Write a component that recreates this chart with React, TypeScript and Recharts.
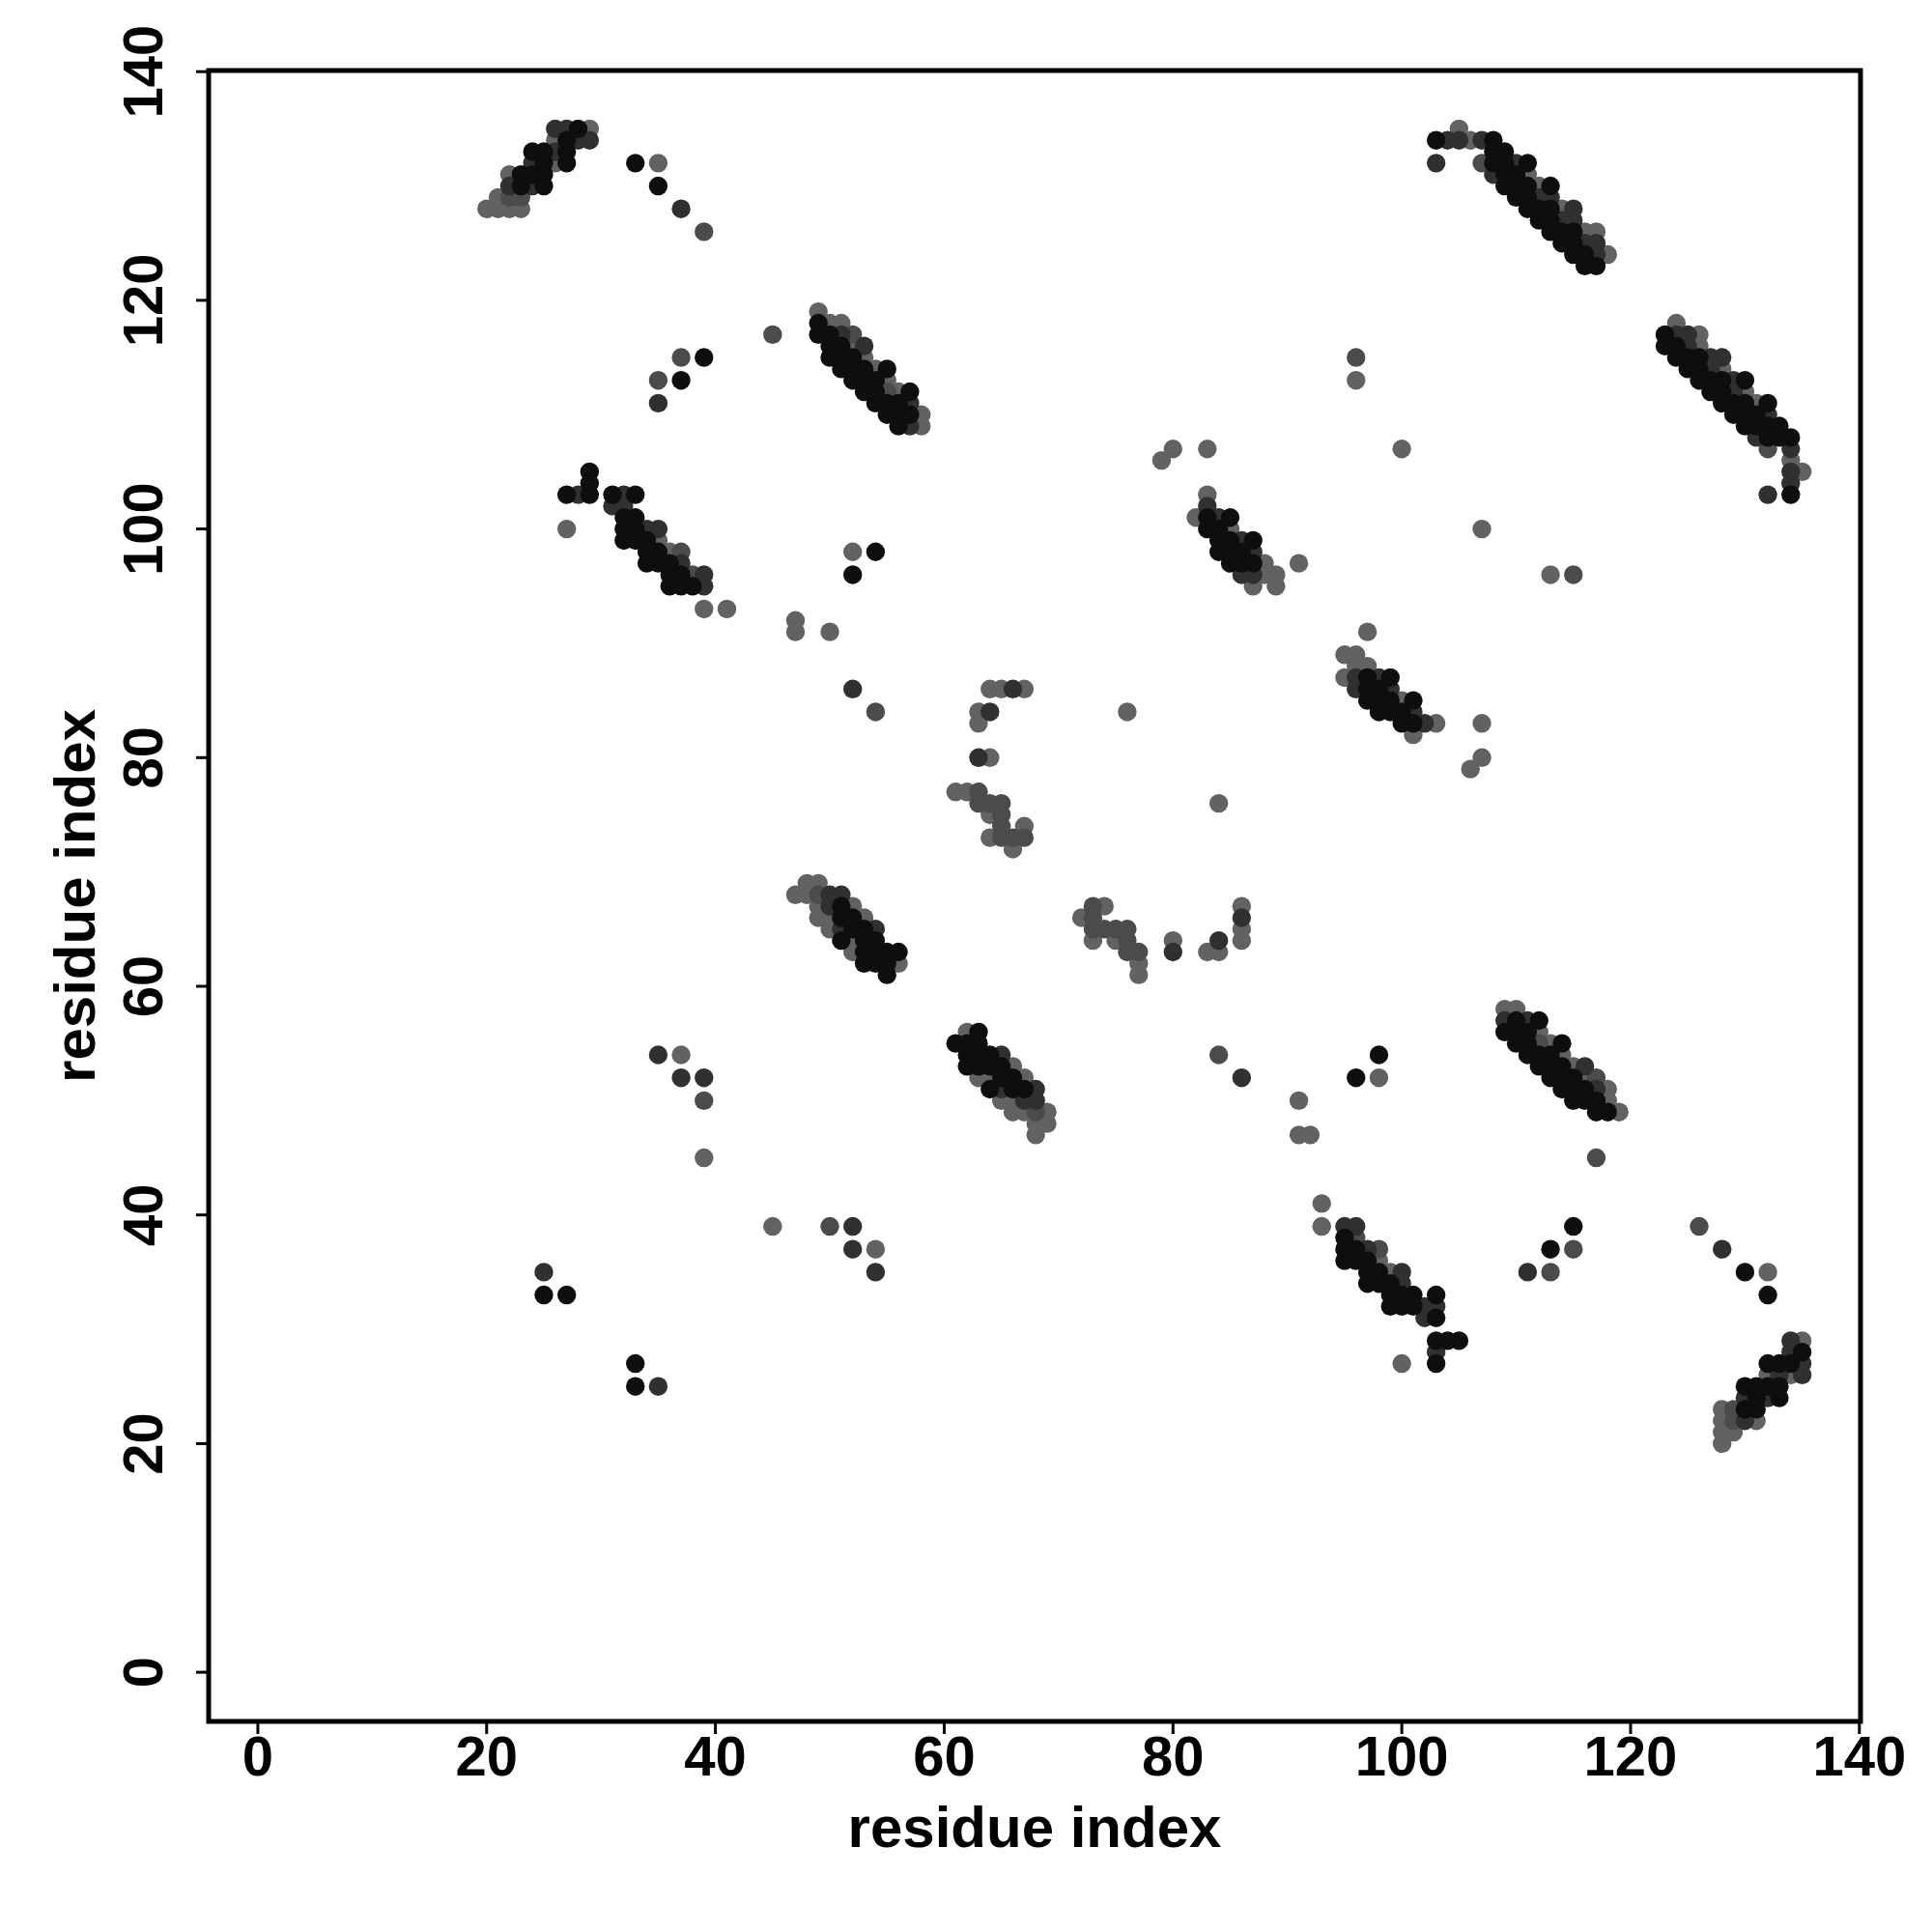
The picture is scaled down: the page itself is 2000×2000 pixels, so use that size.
import React from 'react';
import { ScatterChart, Scatter, XAxis, YAxis, ReferenceArea, Label } from 'recharts';

const axisTicks = [0, 20, 40, 60, 80, 100, 120, 140];
const axisDomain = [-4.3, 140.1];

// contact pairs [i, j] with i > j; the map is symmetric so each pair is drawn at (i,j) and (j,i)
const contactsBlack = [
  [130, 23], [130, 25], [131, 23], [131, 24], [131, 25], [132, 25], [132, 27], [133, 24], [133, 25], [133, 27], [134, 27], [135, 28],
  [109, 56], [110, 55], [110, 56], [110, 57], [111, 54], [111, 55], [111, 56], [112, 53], [112, 54], [112, 57], [113, 52], [113, 53],
  [113, 54], [114, 51], [114, 52], [114, 53], [114, 55], [115, 50], [115, 51], [115, 52], [116, 50], [116, 51], [117, 49], [117, 50], [118, 49],
  [123, 116], [123, 117], [124, 115], [124, 116], [125, 114], [125, 115], [126, 113], [126, 114], [126, 115], [127, 112], [127, 113],
  [128, 111], [128, 112], [128, 113], [129, 110], [129, 111], [130, 109], [130, 110], [130, 111], [130, 113], [131, 109], [131, 110],
  [132, 108], [132, 109], [132, 111], [133, 108], [133, 109], [134, 103], [134, 108],
  [95, 36], [95, 37], [95, 38], [96, 36], [96, 37], [97, 34], [97, 35], [97, 36], [98, 34], [98, 35], [99, 32], [99, 33], [99, 34],
  [100, 32], [100, 33], [101, 32], [101, 33], [103, 27], [103, 29], [103, 31], [103, 33], [104, 29], [105, 29],
  [97, 85], [97, 86], [97, 87], [98, 84], [98, 85], [98, 86], [99, 84], [99, 85], [99, 87], [100, 83], [100, 84], [101, 83], [101, 85],
  [61, 55], [62, 53], [62, 54], [62, 55], [63, 53], [63, 54], [63, 55], [63, 56], [64, 51], [64, 53], [64, 54], [65, 52], [65, 53],
  [66, 51], [66, 52], [67, 51],
  [132, 33], [130, 35], [113, 37], [115, 39], [98, 54], [96, 52], [33, 25], [33, 27],
];

const contactsDark = [
  [130, 22], [130, 24], [132, 24], [133, 26], [134, 28], [134, 29], [135, 26], [135, 27],
  [109, 57], [111, 57], [116, 53], [117, 51],
  [124, 117], [125, 116], [125, 117], [127, 114], [127, 115], [128, 115], [129, 112], [129, 113], [131, 108], [132, 103], [132, 110],
  [134, 104], [134, 105], [134, 107],
  [95, 39], [96, 39], [97, 37], [100, 34], [100, 35], [102, 31], [102, 32], [103, 28], [103, 32],
  [96, 86], [96, 87], [98, 87], [99, 86], [101, 84], [102, 83],
  [65, 51], [65, 54], [67, 50], [68, 50], [68, 51],
  [80, 63], [84, 64], [86, 66],
  [128, 37], [111, 35], [86, 52], [52, 39], [52, 37], [54, 35], [35, 25],
];

const contactsMid = [
  [129, 22], [129, 23],
  [112, 55], [117, 52],
  [132, 107],
  [96, 38], [98, 37],
  [68, 49],
  [73, 65], [73, 66], [73, 67], [74, 65], [75, 65], [76, 63], [76, 64], [76, 65], [77, 63],
  [126, 39], [117, 45], [113, 35], [115, 37], [84, 54], [50, 39], [115, 96],
];

const contactsLight = [
  [128, 20], [128, 21], [128, 22], [128, 23], [129, 21], [131, 22], [132, 26], [134, 26], [135, 29],
  [109, 58], [110, 58], [112, 56], [113, 55], [114, 54], [115, 53], [116, 52], [118, 50], [118, 51], [119, 49],
  [124, 118], [126, 116], [126, 117], [128, 114], [130, 112], [131, 111], [134, 106], [135, 105],
  [98, 36], [99, 35],
  [95, 87], [95, 89], [96, 88], [96, 89], [97, 88], [97, 91], [100, 85], [101, 82], [103, 83],
  [62, 56], [63, 52], [64, 52], [65, 50], [66, 49], [66, 50], [66, 53], [67, 49], [67, 52], [68, 47], [68, 48], [69, 48], [69, 49],
  [72, 66], [73, 64], [74, 67], [75, 64], [77, 61], [77, 62], [80, 64], [83, 63], [84, 63], [86, 64], [86, 65], [86, 67],
  [132, 35], [100, 27], [93, 39], [93, 41], [92, 47], [91, 47], [91, 50], [98, 52], [54, 37], [45, 39], [113, 96], [107, 100],
  [106, 79], [107, 80], [107, 83], [84, 76],
];

const shades = [
  { key: 'light', pairs: contactsLight, color: '#626262' },
  { key: 'mid', pairs: contactsMid, color: '#4b4b4b' },
  { key: 'dark', pairs: contactsDark, color: '#303030' },
  { key: 'black', pairs: contactsBlack, color: '#0e0e0e' },
];

const font = "'Liberation Sans', Arial, Helvetica, sans-serif";

function mirror(pairs: number[][]) {
  return pairs.flatMap(([i, j]) => [{ x: i, y: j }, { x: j, y: i }]);
}

const XTick = ({ x, y, payload }: any) => (
  <text x={x} y={y} dy={41} textAnchor="middle" fontSize={58} fontWeight="bold" fontFamily={font} fill="#000">
    {payload.value}
  </text>
);

const YTick = ({ x, y, payload }: any) => {
  const bx = x - 33;
  return (
    <text x={bx} y={y} transform={`rotate(-90, ${bx}, ${y})`} textAnchor="middle" fontSize={58} fontWeight="bold" fontFamily={font} fill="#000">
      {payload.value}
    </text>
  );
};

export default function App() {
  return (
    <div style={{ position: 'absolute', left: 0, top: 0, width: 2000, height: 2000, background: '#fff' }}>
      <ScatterChart width={2000} height={2000} margin={{ top: 73, right: 74, bottom: 0, left: 0 }}>
        <XAxis
          type="number"
          dataKey="x"
          domain={axisDomain}
          ticks={axisTicks}
          allowDataOverflow
          height={218}
          axisLine={false}
          tickLine={{ stroke: '#000', strokeWidth: 3 }}
          tickSize={13}
          tick={<XTick />}
        >
          <Label
            content={({ viewBox }: any) => (
              <text x={viewBox.x + viewBox.width / 2} y={viewBox.y + 130} textAnchor="middle" fontSize={60} fontWeight="bold" fontFamily={font} fill="#000">
                residue index
              </text>
            )}
          />
        </XAxis>
        <YAxis
          type="number"
          dataKey="y"
          domain={axisDomain}
          ticks={axisTicks}
          allowDataOverflow
          width={216}
          axisLine={false}
          tickLine={{ stroke: '#000', strokeWidth: 3 }}
          tickSize={13}
          tick={<YTick />}
        >
          <Label
            content={({ viewBox }: any) => {
              const cx = 98;
              const cy = viewBox.y + viewBox.height / 2;
              return (
                <text x={cx} y={cy} transform={`rotate(-90, ${cx}, ${cy})`} textAnchor="middle" fontSize={60} fontWeight="bold" fontFamily={font} fill="#000">
                  residue index
                </text>
              );
            }}
          />
        </YAxis>
        {shades.map((s) => (
          <Scatter
            key={s.key}
            data={mirror(s.pairs)}
            isAnimationActive={false}
            shape={(p: any) => <circle cx={p.cx} cy={p.cy} r={9.7} fill={s.color} />}
          />
        ))}
        <ReferenceArea
          x1={axisDomain[0]}
          x2={axisDomain[1]}
          y1={axisDomain[0]}
          y2={axisDomain[1]}
          fill="none"
          stroke="#000"
          strokeWidth={5}
          ifOverflow="visible"
        />
      </ScatterChart>
    </div>
  );
}
